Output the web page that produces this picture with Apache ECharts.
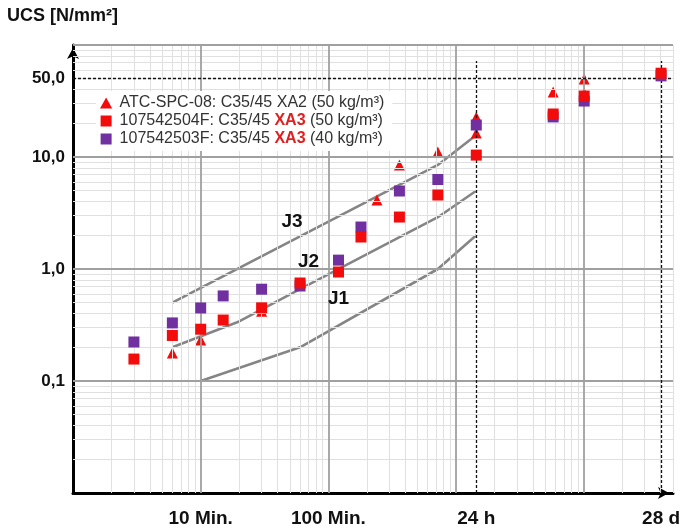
<!DOCTYPE html>
<html>
<head>
<meta charset="utf-8">
<script src="https://cdn.jsdelivr.net/npm/echarts@6/dist/echarts.min.js"></script>
<style>
  html, body { margin: 0; padding: 0; background: #fff; }
  #chart { width: 683px; height: 529px; }
</style>
</head>
<body>
<div id="chart"></div>
<script>
// time in minutes, UCS in N/mm²
const atcTime = [6, 10, 30, 240, 360, 720, 1440, 1440, 5760, 10080, 10080];
const atcUcs = [0.178, 0.232, 0.42, 4.13, 8.5, 11.1, 22.8, 16.4, 38, 49.7, 37];

const f504Time = [3, 6, 10, 15, 30, 60, 120, 180, 360, 720, 1440, 5760, 10080, 40320];
const f504Ucs = [0.157, 0.255, 0.29, 0.35, 0.45, 0.75, 0.94, 1.93, 2.91, 4.58, 10.4, 24.2, 35, 56];

const f503Time = [3, 6, 10, 15, 30, 60, 120, 180, 360, 720, 1440, 5760, 10080, 40320];
const f503Ucs = [0.223, 0.33, 0.449, 0.575, 0.66, 0.705, 1.2, 2.37, 4.97, 6.3, 19.3, 22.8, 31.6, 53];

// J1 / J2 / J3 boundary curves
const j1Time = [10, 60, 720, 1440];
const j1Ucs = [0.1, 0.2, 1.0, 2.0];
const j2Time = [6, 20, 60, 720, 1440];
const j2Ucs = [0.2, 0.34, 0.66, 2.9, 5.0];
const j3Time = [6, 720, 1440];
const j3Ucs = [0.5, 8.5, 15.7];

const curveNames = ['J1', 'J2', 'J3'];
const curveLabelAt = [[120, 0.54], [70, 1.155], [52, 2.63]];

const xTickValues = [10, 100, 1440, 40320];
const xTickLabels = ['10 Min.', '100 Min.', '24 h', '28 d'];
const yTickValues = [0.1, 1, 10, 50];
const yTickLabels = ['0,1', '1,0', '10,0', '50,0'];

const seriesNames = [
  'ATC-SPC-08: C35/45 XA2 (50 kg/m³)',
  '107542504F: C35/45 XA3 (50 kg/m³)',
  '107542503F: C35/45 XA3 (40 kg/m³)'
];

const RED = '#f20c0c';
const PURPLE = '#7030a0';
const FONT = '"Liberation Sans", Arial, sans-serif';
const TRI_ICON = 'path://M5,0L10,9L0,9Z';
const SQ_ICON = 'path://M0,0L10,0L10,10L0,10Z';

const zip = (xs, ys) => xs.map((x, i) => [x, ys[i]]);

// grid lines (log decades + 2..9 minors)
const gridLines = [];
for (let k = 0; k <= 4; k++) {
  for (let m = 2; m <= 9; m++) {
    const v = m * Math.pow(10, k);
    if (v <= 50000) gridLines.push({ xAxis: v, lineStyle: { color: '#e0e0e0', width: 1, type: 'solid' } });
  }
}
for (let k = -2; k <= 1; k++) {
  for (let m = 2; m <= 9; m++) {
    gridLines.push({ yAxis: m * Math.pow(10, k), lineStyle: { color: '#e0e0e0', width: 1, type: 'solid' } });
  }
}
[10, 100, 1000, 10000].forEach(v => gridLines.push({ xAxis: v, lineStyle: { color: '#a0a0a0', width: 1.8, type: 'solid' } }));
[0.1, 1, 10, 100].forEach(v => gridLines.push({ yAxis: v, lineStyle: { color: '#a0a0a0', width: 1.8, type: 'solid' } }));

const dashed = { color: '#111', width: 1.3, type: [3, 2] };
const refLines = [
  { yAxis: 50, lineStyle: dashed },
  [{ coord: [1440, 0.01], lineStyle: dashed }, { coord: [1440, 72] }],
  [{ coord: [40320, 0.01], lineStyle: dashed }, { coord: [40320, 72] }]
];

const curveSeries = [zip(j1Time, j1Ucs), zip(j2Time, j2Ucs), zip(j3Time, j3Ucs)].map((d, i) => ({
  name: curveNames[i],
  type: 'line',
  data: d,
  symbol: 'none',
  z: 3,
  silent: true,
  lineStyle: { color: '#858585', width: 2.6 }
}));

const option = {
  animation: false,
  backgroundColor: '#fff',
  grid: { left: 73, right: 10, top: 45, bottom: 36 },
  xAxis: {
    type: 'log',
    logBase: 10,
    min: 1,
    max: 50000,
    axisLine: {
      show: true, onZero: false,
      lineStyle: { color: '#000', width: 3 },
      symbol: ['none', 'arrow'], symbolSize: [9, 11], symbolOffset: [0, -4]
    },
    axisTick: { show: false },
    axisLabel: { show: false },
    splitLine: { show: false }
  },
  yAxis: {
    type: 'log',
    logBase: 10,
    min: 0.01,
    max: 100,
    axisLine: {
      show: true, onZero: false,
      lineStyle: { color: '#000', width: 3 },
      symbol: ['none', 'arrow'], symbolSize: [9, 11], symbolOffset: [0, -3]
    },
    axisTick: { show: false },
    axisLabel: { show: false },
    splitLine: { show: false }
  },
  legend: {
    data: [
      { name: seriesNames[0], icon: TRI_ICON },
      { name: seriesNames[1], icon: SQ_ICON },
      { name: seriesNames[2], icon: SQ_ICON }
    ],
    orient: 'vertical',
    left: 96,
    top: 91,
    z: 20,
    padding: [4, 8, 4, 4],
    backgroundColor: '#fff',
    itemWidth: 17,
    itemHeight: 11,
    itemGap: 2,
    selectedMode: false,
    formatter: name => name.replace(' XA3 ', ' {r|XA3} '),
    textStyle: {
      fontFamily: FONT, fontSize: 16, color: '#333',
      rich: { r: { fontFamily: FONT, fontSize: 16, fontWeight: 'bold', color: '#e02020' } }
    }
  },
  series: [
    {
      name: 'grid',
      type: 'line',
      data: [],
      z: 1,
      markLine: { silent: true, symbol: ['none', 'none'], label: { show: false }, data: gridLines }
    },
    {
      name: 'ref',
      type: 'line',
      data: [],
      z: 2,
      markLine: { silent: true, symbol: ['none', 'none'], label: { show: false }, data: refLines }
    },
    ...curveSeries,
    {
      name: seriesNames[0],
      type: 'scatter',
      symbol: 'triangle',
      symbolSize: 11,
      z: 4,
      itemStyle: { color: RED, opacity: 1 },
      data: zip(atcTime, atcUcs)
    },
    {
      name: seriesNames[2],
      type: 'scatter',
      symbol: 'rect',
      symbolSize: 11,
      z: 5,
      itemStyle: { color: PURPLE, opacity: 1 },
      data: zip(f503Time, f503Ucs)
    },
    {
      name: seriesNames[1],
      type: 'scatter',
      symbol: 'rect',
      symbolSize: 11,
      z: 6,
      itemStyle: { color: RED, opacity: 1 },
      data: zip(f504Time, f504Ucs)
    }
  ]
};

const chart = echarts.init(document.getElementById('chart'));
chart.setOption(option);

const xPix = v => chart.convertToPixel({ xAxisIndex: 0 }, v);
const yPix = v => chart.convertToPixel({ yAxisIndex: 0 }, v);

const texts = [];
texts.push({
  type: 'text', left: 7, top: 7,
  style: { text: 'UCS [N/mm²]', font: 'bold 18px ' + FONT, fill: '#111' }
});
xTickValues.forEach((v, i) => texts.push({
  type: 'text', x: xPix(v), y: 519,
  style: { text: xTickLabels[i], font: 'bold 19px ' + FONT, fill: '#111', textAlign: 'center', textVerticalAlign: 'middle' }
}));
yTickValues.forEach((v, i) => texts.push({
  type: 'text', x: 65, y: yPix(v),
  style: { text: yTickLabels[i], font: 'bold 17px ' + FONT, fill: '#111', textAlign: 'right', textVerticalAlign: 'middle' }
}));
curveLabelAt.forEach((p, i) => texts.push({
  type: 'text', x: xPix(p[0]), y: yPix(p[1]), z: 10,
  style: { text: curveNames[i], font: 'bold 19px ' + FONT, fill: '#111', textAlign: 'center', textVerticalAlign: 'middle' }
}));
chart.setOption({ graphic: texts });
</script>
</body>
</html>
